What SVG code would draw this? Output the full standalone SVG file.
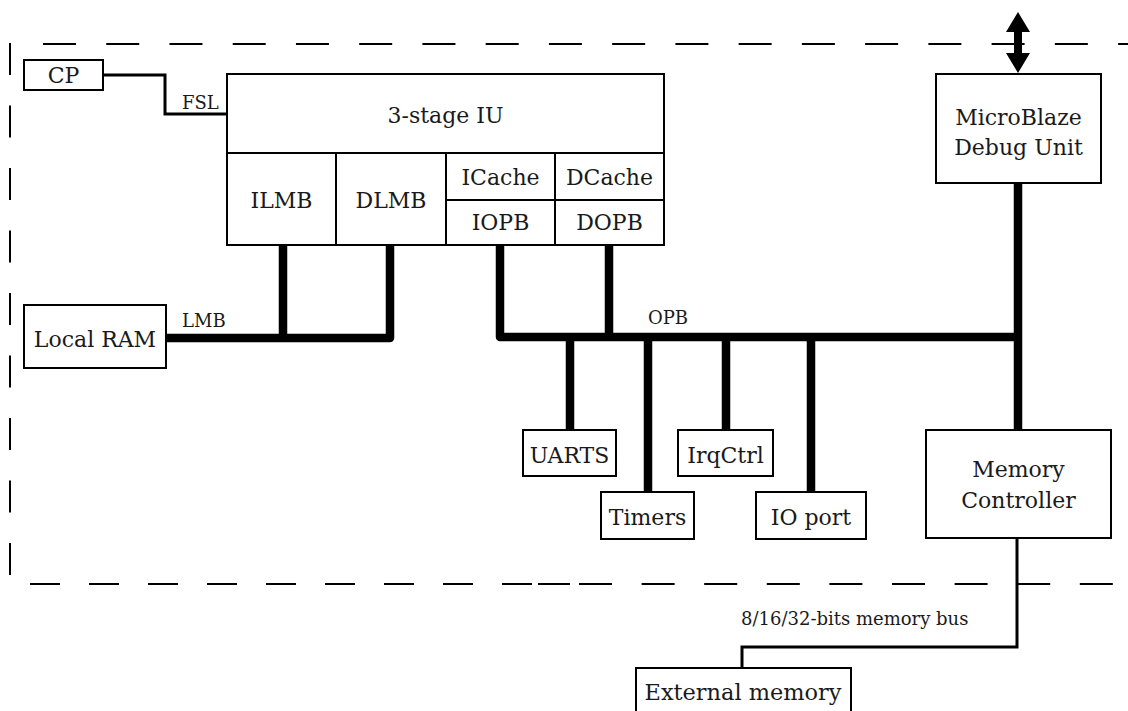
<svg xmlns="http://www.w3.org/2000/svg" width="1128" height="711" viewBox="0 0 1128 711">
<style>
.box{fill:#fff;stroke:#000;stroke-width:2}
.div{fill:none;stroke:#000;stroke-width:2}
.t{font-family:"DejaVu Serif","Liberation Serif",serif;font-size:22px;text-anchor:middle;fill:#1a1a1a}
.s{font-family:"DejaVu Serif","Liberation Serif",serif;font-size:18px;text-anchor:start;fill:#1a1a1a}
.bus{fill:none;stroke:#000;stroke-width:8.5;stroke-linejoin:round}
.thin{fill:none;stroke:#000;stroke-width:3}
.dash{fill:none;stroke:#000;stroke-width:2}
</style>
<rect width="1128" height="711" fill="#fff"/>
<g id="boundary">
<line class="dash" x1="43" y1="44" x2="1128" y2="44" stroke-dasharray="33 30.24"/>
<line class="dash" x1="10" y1="43" x2="10" y2="578" stroke-dasharray="32 30.5"/>
<line class="dash" x1="30" y1="584" x2="533" y2="584" stroke-dasharray="30 29"/>
<line class="dash" x1="538" y1="584" x2="570" y2="584"/>
<line class="dash" x1="579" y1="584" x2="1128" y2="584" stroke-dasharray="33 29.6"/>
</g>
<g id="connectors">
<polyline class="thin" points="103,75 165,75 165,114 227,114"/>
<polyline class="bus" points="166,338 390,338 390,245"/>
<line class="bus" x1="283" y1="245" x2="283" y2="338"/>
<polyline class="bus" points="500,245 500,337 1018,337"/>
<line class="bus" x1="609" y1="245" x2="609" y2="337"/>
<line class="bus" x1="570" y1="337" x2="570" y2="430"/>
<line class="bus" x1="648" y1="337" x2="648" y2="492"/>
<line class="bus" x1="726" y1="337" x2="726" y2="430"/>
<line class="bus" x1="811" y1="337" x2="811" y2="492"/>
<line class="bus" x1="1018" y1="183" x2="1018" y2="430" style="stroke-linejoin:miter"/>
<polyline class="thin" points="1017,538 1017,647 742,647 742,668"/>
<path d="M1018,12 L1030,32 L1022,32 L1022,53 L1030,53 L1018,73 L1006,53 L1014,53 L1014,32 L1006,32 Z" fill="#000"/>
<text class="s" x="182" y="109">FSL</text>
<text class="s" x="182" y="327">LMB</text>
<text class="s" x="648" y="324">OPB</text>
<text class="s" x="741" y="625">8/16/32-bits memory bus</text>
</g>
<g id="cp">
<rect class="box" x="24" y="60" width="79" height="30"/>
<text class="t" x="63.5" y="83">CP</text>
</g>
<g id="microblaze">
<rect class="box" x="227" y="74" width="437" height="171"/>
<line class="div" x1="227" y1="153" x2="664" y2="153"/>
<line class="div" x1="336" y1="153" x2="336" y2="245"/>
<line class="div" x1="446" y1="153" x2="446" y2="245"/>
<line class="div" x1="555" y1="153" x2="555" y2="245"/>
<line class="div" x1="446" y1="200" x2="664" y2="200"/>
<text class="t" x="445.5" y="123">3-stage IU</text>
<text class="t" x="281.5" y="208">ILMB</text>
<text class="t" x="391" y="208">DLMB</text>
<text class="t" x="500.5" y="185">ICache</text>
<text class="t" x="500.5" y="230">IOPB</text>
<text class="t" x="609.5" y="185">DCache</text>
<text class="t" x="609.5" y="230">DOPB</text>
</g>
<g id="debug-unit">
<rect class="box" x="936" y="74" width="165" height="109"/>
<text class="t" x="1018.5" y="125">MicroBlaze</text>
<text class="t" x="1018.5" y="155">Debug Unit</text>
</g>
<g id="local-ram">
<rect class="box" x="24" y="305" width="142" height="63"/>
<text class="t" x="95" y="347">Local RAM</text>
</g>
<g id="uarts">
<rect class="box" x="523" y="430" width="93" height="46"/>
<text class="t" x="569.5" y="463">UARTS</text>
</g>
<g id="irqctrl">
<rect class="box" x="678" y="430" width="95" height="46"/>
<text class="t" x="725.5" y="463">IrqCtrl</text>
</g>
<g id="timers">
<rect class="box" x="601" y="492" width="93" height="47"/>
<text class="t" x="647.5" y="525">Timers</text>
</g>
<g id="io-port">
<rect class="box" x="756" y="492" width="110" height="47"/>
<text class="t" x="811" y="525">IO port</text>
</g>
<g id="memory-controller">
<rect class="box" x="926" y="430" width="185" height="108"/>
<text class="t" x="1018.5" y="477">Memory</text>
<text class="t" x="1018.5" y="508">Controller</text>
</g>
<g id="external-memory">
<rect class="box" x="636" y="668" width="215" height="60"/>
<text class="t" x="743" y="700" textLength="197" lengthAdjust="spacingAndGlyphs">External memory</text>
</g>
</svg>
